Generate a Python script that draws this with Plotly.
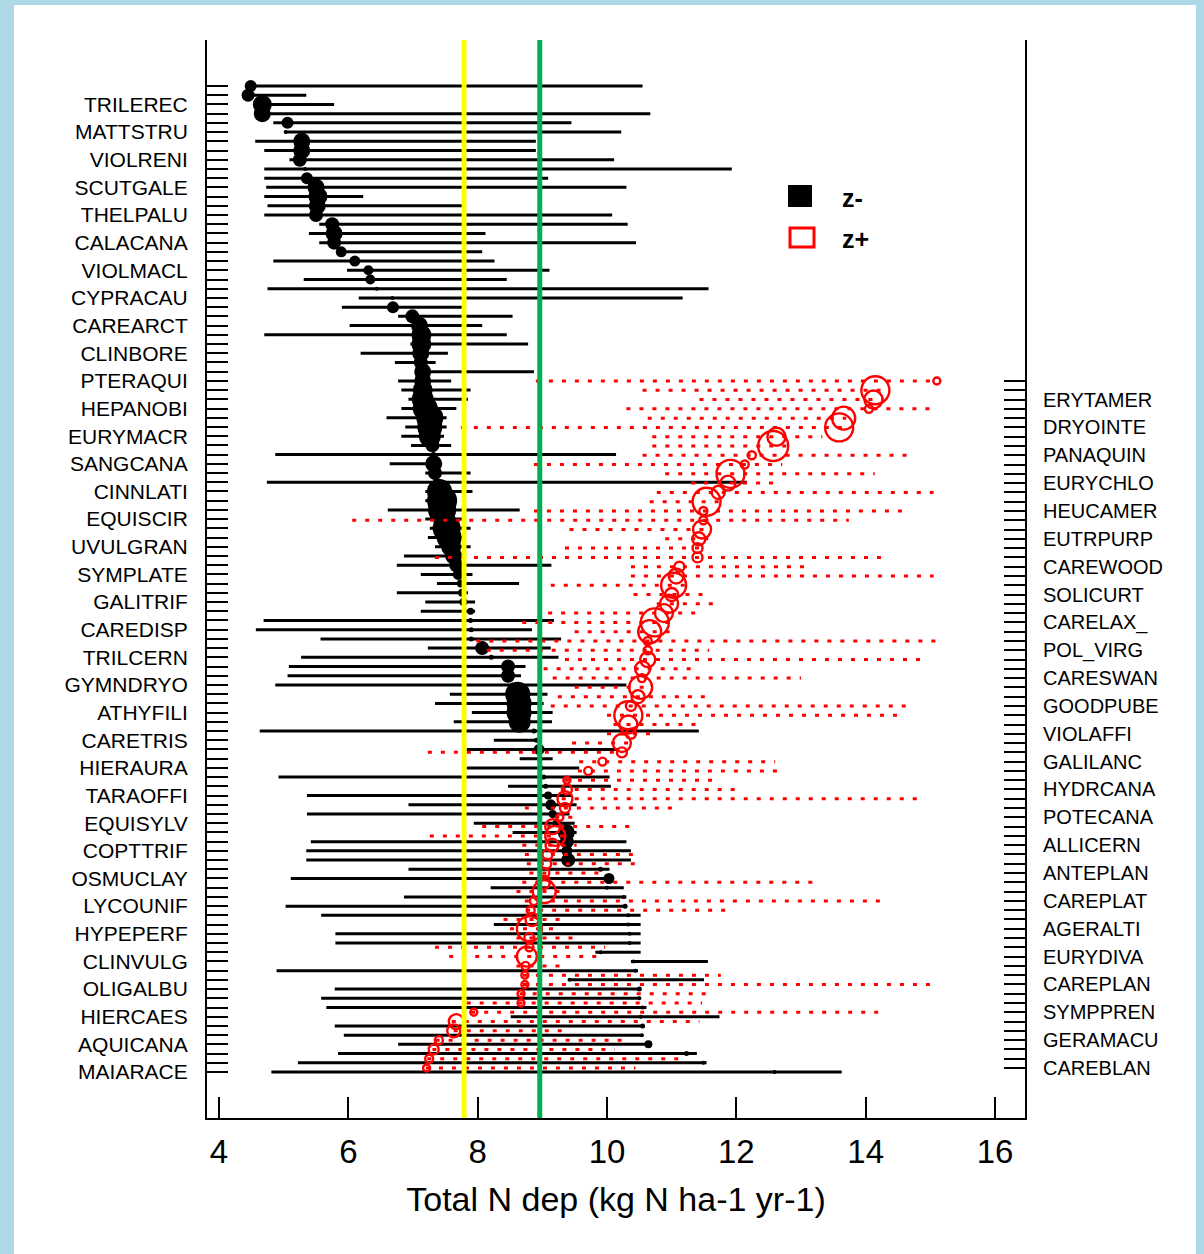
import plotly.graph_objects as go

# ---------------- data ----------------
# z- taxa (decreasers), ranked from top (1) to bottom (108)
cp_neg = [4.49, 4.45, 4.67, 4.67, 5.06, 5.03, 5.28, 5.28, 5.25, 5.33,
          5.36, 5.50, 5.53, 5.52, 5.50, 5.75, 5.78, 5.78, 5.89, 6.10,
          6.31, 6.34, 6.44, 6.68, 6.69, 6.99, 7.10, 7.13, 7.13, 7.12,
          7.12, 7.15, 7.15, 7.15, 7.15, 7.19, 7.26, 7.26, 7.26, 7.30,
          7.32, 7.32, 7.34, 7.37, 7.41, 7.45, 7.45, 7.48, 7.52, 7.56,
          7.59, 7.63, 7.67, 7.70, 7.74, 7.76, 7.78, 7.89, 7.89, 7.90,
          7.90, 8.07, 8.21, 8.47, 8.47, 8.54, 8.62, 8.64, 8.64, 8.65,
          8.87, 8.91, 8.95, 8.96, 8.98, 9.02, 9.05, 9.09, 9.13, 9.16,
          9.22, 9.37, 9.38, 9.38, 9.40, 9.90, 10.03, 10.00, 10.26, 10.28,
          10.33, 10.33, 10.35, 10.35, 9.90, 10.41, 10.44, 9.42, 10.50, 10.50,
          10.55, 10.52, 10.55, 10.54, 10.64, 11.23, 11.49, 12.59]
lo_neg = [4.48, 4.42, 4.53, 4.59, 4.84, 5.03, 4.56, 4.70, 5.09, 4.70,
          4.70, 4.73, 4.70, 4.75, 4.70, 5.55, 5.39, 5.55, 5.83, 4.84,
          5.98, 5.31, 4.75, 6.16, 5.90, 6.77, 6.02, 4.70, 6.96, 6.19,
          6.72, 7.04, 6.77, 6.82, 6.93, 6.82, 6.59, 6.88, 6.82, 6.97,
          4.87, 6.64, 7.19, 4.74, 7.19, 7.19, 6.61, 7.19, 7.26, 7.23,
          7.34, 6.86, 6.75, 7.12, 7.37, 6.75, 7.19, 7.12, 4.69, 4.57,
          5.57, 7.23, 5.27, 5.08, 5.06, 4.87, 7.57, 7.34, 7.91, 7.63,
          4.63, 8.25, 7.83, 8.65, 7.83, 4.92, 8.47, 5.36, 6.93, 5.36,
          7.94, 8.54, 5.42, 5.35, 5.35, 6.93, 5.11, 8.20, 6.86, 5.03,
          5.58, 8.25, 5.80, 5.80, 9.82, 10.37, 4.89, 9.42, 5.79, 5.58,
          5.66, 8.51, 5.79, 5.93, 6.77, 5.84, 5.22, 4.81]
hi_neg = [10.55, 5.35, 5.78, 10.67, 9.45, 10.22, 8.90, 8.90, 10.11, 11.93,
          9.09, 10.30, 6.23, 7.76, 10.08, 10.32, 8.12, 10.45, 8.07, 8.26,
          9.11, 8.45, 11.57, 11.17, 7.76, 8.54, 8.07, 8.45, 8.78, 7.54,
          7.35, 8.87, 7.59, 7.89, 7.85, 7.67, 7.52, 7.52, 7.48, 7.59,
          10.14, 7.45, 7.89, 12.16, 7.92, 7.63, 8.65, 7.76, 7.89, 7.76,
          7.89, 7.70, 9.14, 7.92, 8.64, 7.85, 7.96, 7.96, 9.18, 8.84,
          9.29, 9.13, 9.25, 8.74, 8.67, 10.30, 9.08, 9.02, 9.16, 9.15,
          11.42, 8.96, 10.19, 9.16, 9.57, 10.04, 10.06, 9.46, 9.53, 9.42,
          9.50, 9.53, 10.30, 10.37, 10.37, 10.04, 10.04, 10.26, 10.30, 10.30,
          10.52, 10.52, 10.52, 10.52, 10.52, 11.56, 10.48, 11.50, 10.52, 10.52,
          10.61, 11.74, 10.55, 10.55, 10.66, 11.39, 11.54, 13.63]
z_neg = [12, 13, 19, 17, 12, 4, 17, 17, 14, 4,
         12, 17, 19, 17, 14, 14, 17, 14, 11, 11,
         10, 10, 4, 4, 12, 14, 17, 20, 20, 17,
         14, 17, 17, 20, 22, 25, 27, 25, 22, 14,
         5, 17, 14, 8, 25, 30, 28, 22, 28, 25,
         20, 17, 14, 11, 8, 8, 8, 7, 5, 5,
         5, 14, 5, 14, 14, 5, 25, 25, 25, 22,
         5, 5, 11, 5, 5, 5, 5, 8, 11, 8,
         8, 17, 14, 11, 14, 5, 11, 4, 4, 5,
         4, 4, 4, 4, 4, 4, 4, 4, 5, 4,
         4, 4, 5, 4, 8, 5, 4, 4]

# z+ taxa (increasers), ranked from top (1) to bottom (75)
cp_pos = [15.10, 14.15, 14.12, 14.05, 13.66, 13.59, 12.62, 12.57, 12.24, 12.13,
          11.91, 11.87, 11.72, 11.54, 11.49, 11.49, 11.47, 11.42, 11.40, 11.40,
          11.12, 11.07, 11.03, 11.00, 10.96, 10.88, 10.74, 10.66, 10.63, 10.63,
          10.63, 10.55, 10.54, 10.52, 10.48, 10.37, 10.33, 10.33, 10.37, 10.23,
          10.23, 9.93, 9.71, 9.38, 9.38, 9.35, 9.35, 9.27, 9.16, 9.20,
          9.15, 9.08, 9.06, 9.03, 9.02, 9.03, 8.87, 8.82, 8.84, 8.80,
          8.80, 8.80, 8.76, 8.74, 8.73, 8.73, 8.67, 8.67, 7.94, 7.67,
          7.63, 7.40, 7.32, 7.25, 7.21]
lo_pos = [8.90, 10.55, 11.43, 10.30, 10.63, 7.74, 10.70, 10.70, 10.55, 8.87,
          10.90, 11.30, 10.77, 10.66, 8.87, 6.06, 9.42, 10.90, 9.35, 7.34,
          10.37, 10.37, 9.13, 10.41, 10.77, 9.09, 8.69, 9.50, 7.98, 8.14,
          9.35, 9.02, 9.16, 9.50, 9.24, 9.13, 10.00, 10.10, 10.00, 9.46,
          7.23, 9.57, 9.55, 9.35, 9.30, 9.30, 8.73, 9.20, 8.07, 7.26,
          8.69, 8.73, 8.76, 8.80, 8.69, 8.60, 8.73, 8.75, 8.40, 8.50,
          8.60, 7.34, 7.56, 8.60, 8.70, 8.70, 8.65, 7.83, 7.90, 7.60,
          7.63, 7.35, 7.30, 7.22, 7.20]
hi_pos = [15.10, 14.28, 14.28, 15.05, 13.70, 13.70, 13.33, 12.82, 14.65, 12.71,
          14.14, 12.64, 15.05, 11.76, 14.65, 13.74, 11.50, 11.60, 11.47, 14.36,
          13.15, 15.05, 11.21, 11.50, 11.65, 11.50, 11.07, 11.00, 15.09, 11.58,
          14.94, 11.43, 13.00, 10.70, 11.61, 14.69, 14.58, 11.47, 10.80, 10.40,
          10.25, 12.60, 12.67, 11.65, 12.09, 14.90, 11.07, 9.53, 10.44, 9.46,
          9.53, 10.44, 10.48, 9.90, 13.19, 9.30, 14.25, 11.91, 9.40, 9.20,
          9.60, 9.97, 9.93, 9.38, 11.76, 15.05, 11.58, 11.47, 14.21, 11.43,
          9.35, 10.33, 10.12, 11.18, 10.44]
z_pos = [7, 28, 18, 8, 23, 28, 18, 30, 8, 8,
         28, 15, 13, 28, 8, 8, 18, 13, 10, 10,
         10, 15, 25, 13, 18, 18, 28, 23, 8, 8,
         15, 15, 8, 23, 13, 10, 28, 18, 10, 18,
         10, 8, 8, 7, 10, 15, 10, 7, 15, 20,
         13, 10, 10, 10, 13, 23, 8, 8, 13, 25,
         10, 8, 20, 8, 7, 7, 7, 7, 7, 15,
         13, 8, 10, 8, 7]

# labels shown on the axes (every third taxon)
labels_neg = ["TRILEREC", "MATTSTRU", "VIOLRENI", "SCUTGALE", "THELPALU", "CALACANA",
              "VIOLMACL", "CYPRACAU", "CAREARCT", "CLINBORE", "PTERAQUI", "HEPANOBI",
              "EURYMACR", "SANGCANA", "CINNLATI", "EQUISCIR", "UVULGRAN", "SYMPLATE",
              "GALITRIF", "CAREDISP", "TRILCERN", "GYMNDRYO", "ATHYFILI", "CARETRIS",
              "HIERAURA", "TARAOFFI", "EQUISYLV", "COPTTRIF", "OSMUCLAY", "LYCOUNIF",
              "HYPEPERF", "CLINVULG", "OLIGALBU", "HIERCAES", "AQUICANA", "MAIARACE"]
labels_pos = ["ERYTAMER", "DRYOINTE", "PANAQUIN", "EURYCHLO", "HEUCAMER", "EUTRPURP",
              "CAREWOOD", "SOLICURT", "CARELAX_", "POL_VIRG", "CARESWAN", "GOODPUBE",
              "VIOLAFFI", "GALILANC", "HYDRCANA", "POTECANA", "ALLICERN", "ANTEPLAN",
              "CAREPLAT", "AGERALTI", "EURYDIVA", "CAREPLAN", "SYMPPREN", "GERAMACU",
              "CAREBLAN"]

x_ticks = [4, 6, 8, 10, 12, 14, 16]
threshold_yellow = 7.79
threshold_green = 8.96

# ---------------- figure ----------------
ranks_neg = list(range(1, len(cp_neg) + 1))
ranks_pos = list(range(1, len(cp_pos) + 1))
tick_neg = ["" for _ in ranks_neg]
for i, name in enumerate(labels_neg):
    tick_neg[3 * (i + 1) - 1] = name
tick_pos = ["" for _ in ranks_pos]
for i, name in enumerate(labels_pos):
    tick_pos[3 * (i + 1) - 1] = name

FONT = "Arial, Liberation Sans, sans-serif"
fig = go.Figure()

lx, ly = [], []
for r, a, b in zip(ranks_neg, lo_neg, hi_neg):
    lx += [a, b, None]
    ly += [r, r, None]
fig.add_trace(go.Scatter(x=lx, y=ly, mode="lines", yaxis="y",
                         line=dict(color="black", width=3), hoverinfo="skip",
                         showlegend=False))
fig.add_trace(go.Scatter(x=cp_neg, y=ranks_neg, mode="markers", yaxis="y",
                         marker=dict(size=z_neg, color="black", symbol="circle",
                                     opacity=1, line=dict(width=0)),
                         showlegend=False, name="z-"))

px_, py_ = [], []
for r, a, b in zip(ranks_pos, lo_pos, hi_pos):
    px_ += [a, b, None]
    py_ += [r, r, None]
fig.add_trace(go.Scatter(x=px_, y=py_, mode="lines", yaxis="y2",
                         line=dict(color="red", width=3, dash="4px,9px"),
                         hoverinfo="skip", showlegend=False))
fig.add_trace(go.Scatter(x=cp_pos, y=ranks_pos, mode="markers", yaxis="y2",
                         marker=dict(size=z_pos, color="red", symbol="circle-open",
                                     opacity=1, line=dict(width=2.4, color="red")),
                         showlegend=False, name="z+"))

# geometry of the plot area (pixels) for decorations
L, R, T, B = 207, 1025, 40, 1118
W, H = 1204, 1254


def pxx(p):
    return (p - L) / (R - L)


def pxy(p):
    return (B - p) / (B - T)


n_neg, n_pos = len(cp_neg), len(cp_pos)
sp_neg = (1072 - 86) / (n_neg - 1)
sp_pos = (1068 - 381) / (n_pos - 1)
yr_neg = [n_neg + (B - 1072) / sp_neg, 1 - (86 - T) / sp_neg]
yr_pos = [n_pos + (B - 1068) / sp_pos, 1 - (381 - T) / sp_pos]
x_lo = 4 + (L - 219) / ((995 - 219) / 12)
x_hi = 4 + (R - 219) / ((995 - 219) / 12)

shapes = [
    dict(type="rect", xref="paper", yref="paper", x0=pxx(14), x1=pxx(1196),
         y0=pxy(H + 5), y1=pxy(5), fillcolor="white", line=dict(width=0), layer="below"),
    dict(type="line", xref="x", yref="paper", x0=threshold_yellow, x1=threshold_yellow,
         y0=0, y1=1, line=dict(color="#ffff00", width=5), layer="above"),
    dict(type="line", xref="x", yref="paper", x0=threshold_green, x1=threshold_green,
         y0=0, y1=1, line=dict(color="#00b050", width=5), layer="above"),
    dict(type="rect", xref="paper", yref="paper", x0=pxx(788), x1=pxx(812),
         y0=pxy(207), y1=pxy(185), fillcolor="black", line=dict(width=0)),
    dict(type="rect", xref="paper", yref="paper", x0=pxx(790), x1=pxx(814),
         y0=pxy(247), y1=pxy(228), fillcolor="white", line=dict(color="red", width=3)),
]
annotations = [
    dict(x=pxx(840), y=pxy(198), xref="paper", yref="paper", text="<b>z-</b>",
         showarrow=False, xanchor="left", yanchor="middle",
         font=dict(family=FONT, size=25, color="black")),
    dict(x=pxx(840), y=pxy(239), xref="paper", yref="paper", text="<b>z+</b>",
         showarrow=False, xanchor="left", yanchor="middle",
         font=dict(family=FONT, size=25, color="black")),
]

fig.update_layout(
    width=W, height=H,
    margin=dict(l=L, r=W - R, t=T, b=H - B),
    paper_bgcolor="#add8e6", plot_bgcolor="white",
    font=dict(family=FONT, color="black"),
    shapes=shapes, annotations=annotations, showlegend=False,
    xaxis=dict(range=[x_lo, x_hi], tickvals=x_ticks, ticks="inside", ticklen=21,
               tickwidth=1.5, tickcolor="black", showline=True, linecolor="black",
               linewidth=2, showgrid=False, zeroline=False,
               tickfont=dict(size=33, family=FONT), ticklabelstandoff=3,
               title=dict(text="Total N dep (kg N ha-1 yr-1)", standoff=19,
                          font=dict(size=34, family=FONT))),
    yaxis=dict(range=yr_neg, tickvals=ranks_neg, ticktext=tick_neg, ticks="inside",
               ticklen=21, tickwidth=2, tickcolor="black", showline=True,
               linecolor="black", linewidth=2, showgrid=False, zeroline=False,
               tickfont=dict(size=21, family=FONT), ticklabelstandoff=13),
    yaxis2=dict(range=yr_pos, tickvals=ranks_pos, ticktext=tick_pos, ticks="inside",
                ticklen=21, tickwidth=2, tickcolor="black", showline=True,
                linecolor="black", linewidth=2, showgrid=False, zeroline=False,
                overlaying="y", side="right", anchor="x",
                tickfont=dict(size=20, family=FONT), ticklabelstandoff=12),
)

fig.write_html("out.html", config={"displayModeBar": False},
               post_script="document.body.style.margin='0';"
                           "document.body.style.overflow='hidden';")
